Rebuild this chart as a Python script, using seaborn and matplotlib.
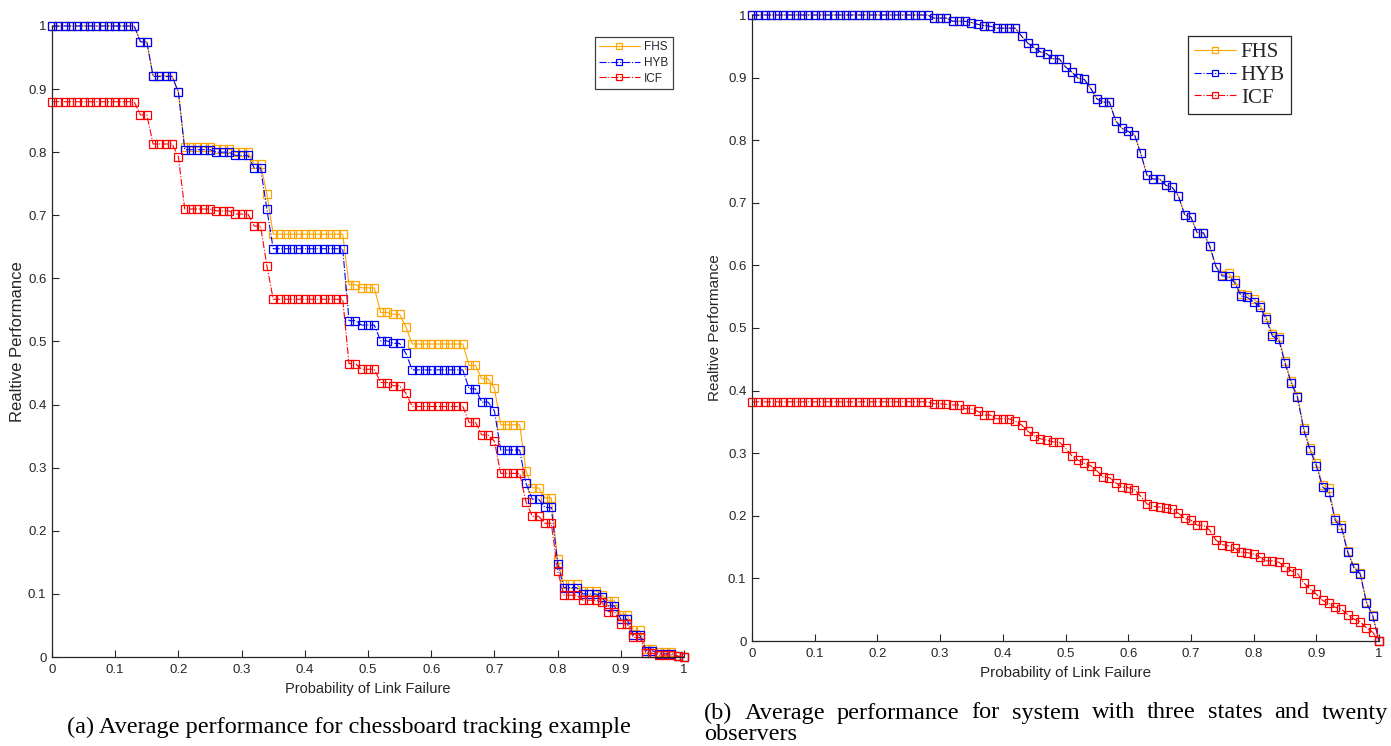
import numpy as np
import pandas as pd
import matplotlib
matplotlib.use("Agg")
import matplotlib.pyplot as plt
import seaborn as sns
from matplotlib.ticker import FuncFormatter, MultipleLocator

# probability of link failure, sampled every 0.01
p_fail = np.linspace(0, 1, 101)

# (a) chessboard tracking example
fhs_a = [1, 1, 1, 1, 1, 1, 1, 1, 1, 1,
         1, 1, 1, 1, 0.975, 0.975, 0.921, 0.921, 0.921, 0.921,
         0.896, 0.808, 0.808, 0.808, 0.808, 0.808, 0.805, 0.805, 0.805, 0.800,
         0.800, 0.800, 0.781, 0.781, 0.734, 0.670, 0.670, 0.670, 0.670, 0.670,
         0.670, 0.670, 0.670, 0.670, 0.670, 0.670, 0.670, 0.590, 0.590, 0.585,
         0.585, 0.585, 0.546, 0.546, 0.543, 0.543, 0.523, 0.496, 0.496, 0.496,
         0.496, 0.496, 0.496, 0.496, 0.496, 0.496, 0.462, 0.462, 0.441, 0.441,
         0.426, 0.368, 0.368, 0.368, 0.368, 0.295, 0.268, 0.268, 0.252, 0.252,
         0.155, 0.115, 0.115, 0.115, 0.105, 0.105, 0.105, 0.098, 0.089, 0.089,
         0.067, 0.067, 0.042, 0.042, 0.013, 0.013, 0.008, 0.008, 0.008, 0.002,
         0.0]
hyb_a = [1, 1, 1, 1, 1, 1, 1, 1, 1, 1,
         1, 1, 1, 1, 0.975, 0.975, 0.920, 0.920, 0.920, 0.920,
         0.895, 0.804, 0.804, 0.804, 0.804, 0.804, 0.800, 0.800, 0.800, 0.795,
         0.795, 0.795, 0.775, 0.775, 0.710, 0.647, 0.647, 0.647, 0.647, 0.647,
         0.647, 0.647, 0.647, 0.647, 0.647, 0.647, 0.647, 0.533, 0.533, 0.526,
         0.526, 0.526, 0.501, 0.501, 0.497, 0.497, 0.481, 0.455, 0.455, 0.455,
         0.455, 0.455, 0.455, 0.455, 0.455, 0.455, 0.425, 0.425, 0.404, 0.404,
         0.390, 0.328, 0.328, 0.328, 0.328, 0.275, 0.250, 0.250, 0.237, 0.237,
         0.148, 0.110, 0.110, 0.110, 0.100, 0.100, 0.100, 0.095, 0.081, 0.081,
         0.060, 0.060, 0.035, 0.035, 0.010, 0.010, 0.005, 0.005, 0.005, 0.001,
         0.0]
icf_a = [0.880, 0.880, 0.880, 0.880, 0.880, 0.880, 0.880, 0.880, 0.880, 0.880,
         0.880, 0.880, 0.880, 0.880, 0.859, 0.859, 0.813, 0.813, 0.813, 0.813,
         0.793, 0.710, 0.710, 0.710, 0.710, 0.710, 0.707, 0.707, 0.707, 0.702,
         0.702, 0.702, 0.683, 0.683, 0.620, 0.567, 0.567, 0.567, 0.567, 0.567,
         0.567, 0.567, 0.567, 0.567, 0.567, 0.567, 0.567, 0.465, 0.465, 0.456,
         0.456, 0.456, 0.435, 0.435, 0.430, 0.430, 0.418, 0.397, 0.397, 0.397,
         0.397, 0.397, 0.397, 0.397, 0.397, 0.397, 0.372, 0.372, 0.352, 0.352,
         0.342, 0.291, 0.291, 0.291, 0.291, 0.246, 0.223, 0.223, 0.212, 0.212,
         0.137, 0.098, 0.098, 0.098, 0.090, 0.090, 0.090, 0.087, 0.072, 0.072,
         0.053, 0.053, 0.031, 0.031, 0.006, 0.006, 0.003, 0.003, 0.003, 0.001,
         0.0]

# (b) three states, twenty observers
hyb_b = [1, 1, 1, 1, 1, 1, 1, 1, 1, 1,
         1, 1, 1, 1, 1, 1, 1, 1, 1, 1,
         1, 1, 1, 1, 1, 1, 1, 1, 1, 0.995,
         0.995, 0.995, 0.990, 0.990, 0.990, 0.988, 0.985, 0.983, 0.982, 0.979,
         0.979, 0.979, 0.979, 0.966, 0.955, 0.948, 0.941, 0.938, 0.930, 0.930,
         0.917, 0.909, 0.899, 0.897, 0.883, 0.866, 0.861, 0.861, 0.831, 0.819,
         0.814, 0.809, 0.779, 0.744, 0.738, 0.738, 0.728, 0.725, 0.711, 0.681,
         0.677, 0.652, 0.652, 0.631, 0.598, 0.583, 0.583, 0.572, 0.551, 0.549,
         0.542, 0.534, 0.514, 0.487, 0.482, 0.444, 0.412, 0.389, 0.337, 0.305,
         0.280, 0.246, 0.238, 0.193, 0.181, 0.142, 0.117, 0.107, 0.061, 0.040,
         0.0]
fhs_b = [1, 1, 1, 1, 1, 1, 1, 1, 1, 1,
         1, 1, 1, 1, 1, 1, 1, 1, 1, 1,
         1, 1, 1, 1, 1, 1, 1, 1, 1, 0.995,
         0.995, 0.995, 0.990, 0.990, 0.990, 0.988, 0.985, 0.983, 0.982, 0.979,
         0.979, 0.979, 0.979, 0.966, 0.955, 0.948, 0.941, 0.938, 0.930, 0.930,
         0.917, 0.909, 0.899, 0.897, 0.883, 0.866, 0.861, 0.861, 0.831, 0.819,
         0.814, 0.809, 0.779, 0.744, 0.738, 0.738, 0.728, 0.725, 0.711, 0.681,
         0.677, 0.652, 0.652, 0.631, 0.598, 0.585, 0.588, 0.576, 0.555, 0.553,
         0.547, 0.537, 0.518, 0.490, 0.486, 0.447, 0.415, 0.392, 0.340, 0.308,
         0.284, 0.250, 0.244, 0.196, 0.186, 0.144, 0.119, 0.109, 0.063, 0.041,
         0.0]
icf_b = [0.382, 0.382, 0.382, 0.382, 0.382, 0.382, 0.382, 0.382, 0.382, 0.382,
         0.382, 0.382, 0.382, 0.382, 0.382, 0.382, 0.382, 0.382, 0.382, 0.382,
         0.382, 0.382, 0.382, 0.382, 0.382, 0.382, 0.382, 0.382, 0.382, 0.379,
         0.379, 0.378, 0.377, 0.377, 0.371, 0.371, 0.367, 0.361, 0.361, 0.355,
         0.355, 0.355, 0.351, 0.345, 0.335, 0.328, 0.323, 0.321, 0.318, 0.318,
         0.308, 0.296, 0.289, 0.284, 0.280, 0.272, 0.262, 0.261, 0.253, 0.246,
         0.245, 0.242, 0.231, 0.219, 0.215, 0.214, 0.212, 0.211, 0.204, 0.196,
         0.193, 0.185, 0.185, 0.177, 0.161, 0.154, 0.152, 0.148, 0.142, 0.141,
         0.139, 0.134, 0.128, 0.128, 0.126, 0.119, 0.112, 0.108, 0.093, 0.083,
         0.075, 0.065, 0.060, 0.054, 0.051, 0.042, 0.035, 0.031, 0.021, 0.014,
         0.0]

methods = ["FHS", "HYB", "ICF"]
colors = {"FHS": "#FFA500", "HYB": "#0000FF", "ICF": "#FF0000"}
styles = {"FHS": "-", "HYB": "-.", "ICF": "-."}

sns.set_style("ticks")
plt.rcParams["font.family"] = ["Liberation Sans", "DejaVu Sans"]
axis_col = "#262626"

fig = plt.figure(figsize=(13.91, 7.46), dpi=100)
ax_a = fig.add_axes([52 / 1391, 1 - 657 / 746, 632 / 1391, 631 / 746])
ax_b = fig.add_axes([752 / 1391, 1 - 641 / 746, 627 / 1391, 626 / 746])


def draw_panel(ax, series, ylabel_fs):
    for name in methods:
        sns.lineplot(x=p_fail, y=series[name], ax=ax, color=colors[name],
                     linestyle=styles[name], linewidth=0.8, marker="s",
                     markersize=6, markerfacecolor="none",
                     markeredgecolor=colors[name], markeredgewidth=0.9,
                     label=name, clip_on=False)
    ax.set_xlim(0, 1)
    ax.set_ylim(0, 1)
    ax.xaxis.set_major_locator(MultipleLocator(0.1))
    ax.yaxis.set_major_locator(MultipleLocator(0.1))
    fmt = FuncFormatter(lambda v, _: f"{v:.1f}".rstrip("0").rstrip(".") if v else "0")
    ax.xaxis.set_major_formatter(fmt)
    ax.yaxis.set_major_formatter(fmt)
    ax.tick_params(direction="in", length=5, width=0.8, colors=axis_col,
                   labelsize=9.5)
    ax.tick_params(axis="y", pad=4)
    ax.tick_params(axis="x", pad=5)
    for side in ["top", "right"]:
        ax.spines[side].set_visible(False)
    for side in ["left", "bottom"]:
        ax.spines[side].set_color(axis_col)
        ax.spines[side].set_linewidth(0.9)
    ax.set_xlabel("Probability of Link Failure", fontsize=10.5, color=axis_col)
    ax.set_ylabel("Realtive Performance", fontsize=ylabel_fs, color=axis_col)


draw_panel(ax_a, {"FHS": fhs_a, "HYB": hyb_a, "ICF": icf_a}, 12)
draw_panel(ax_b, {"FHS": fhs_b, "HYB": hyb_b, "ICF": icf_b}, 11)
ax_b.xaxis.label.set_fontsize(11)
ax_a.yaxis.labelpad = 2

leg_a = ax_a.legend(loc="upper right", bbox_to_anchor=(0.983, 0.983),
                    borderaxespad=0, fontsize=8.5, handlelength=3.4,
                    labelspacing=0.3, fancybox=False, framealpha=1,
                    edgecolor="#404040", markerscale=0.7, handletextpad=0.4,
                    borderpad=0.4)
leg_a.get_frame().set_linewidth(0.9)
leg_b = ax_b.legend(loc="upper right", bbox_to_anchor=(0.86, 0.966),
                    borderaxespad=0, handlelength=2.0, labelspacing=0.15,
                    fancybox=False, framealpha=1, edgecolor="#262626",
                    markerscale=0.8, handletextpad=0.25, borderpad=0.3,
                    prop={"family": "Liberation Serif", "size": 15})
leg_b.get_frame().set_linewidth(0.9)

serif = {"family": "Liberation Serif", "size": 17.5, "color": "black"}
fig.text(349 / 1391, 1 - 727 / 746, "(a) Average performance for chessboard tracking example",
         ha="center", va="center", **serif)

# caption (b): justified first line, second line left aligned
words = "(b) Average performance for system with three states and twenty".split()
renderer = fig.canvas.get_renderer()
left_px, right_px = 704, 1388
items = [fig.text(0, 1 - 713 / 746, w, ha="left", va="center", **serif) for w in words]
widths = [t.get_window_extent(renderer).width for t in items]
gap = (right_px - left_px - sum(widths)) / (len(words) - 1)
pos = left_px
for t, w in zip(items, widths):
    t.set_x(pos / 1391)
    pos += w + gap
fig.text(left_px / 1391, 1 - 735 / 746, "observers", ha="left", va="center", **serif)

fig.savefig("out.png", dpi=100)
